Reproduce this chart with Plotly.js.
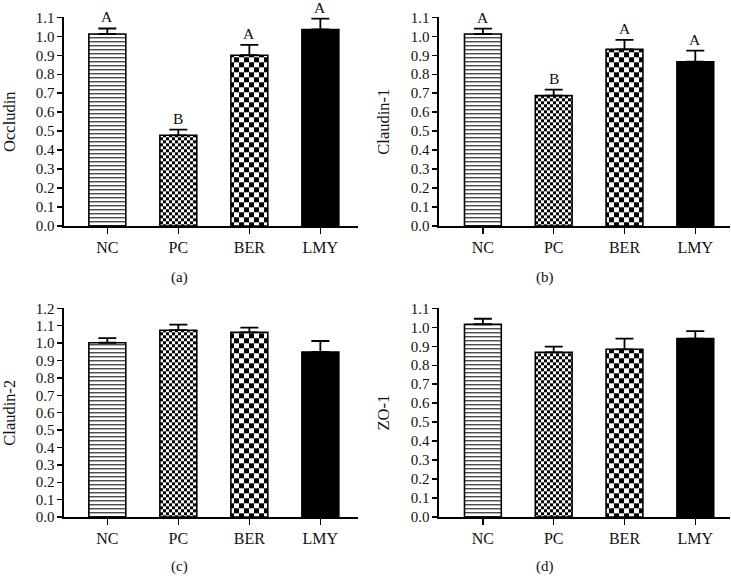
<!DOCTYPE html>
<html>
<head>
<meta charset="utf-8">
<script src="https://cdn.plot.ly/plotly-3.0.1.min.js"></script>
<style>html,body{margin:0;padding:0;background:#fff;}#chart{width:731px;height:578px;}</style>
</head>
<body>
<div id="chart"></div>
<script>
const categories = ['NC', 'PC', 'BER', 'LMY'];

const occludin = [1.012, 0.478, 0.900, 1.036];
const occludinErr = [0.029, 0.030, 0.055, 0.057];
const occludinLetters = ['A', 'B', 'A', 'A'];

const claudin1 = [1.012, 0.687, 0.931, 0.866];
const claudin1Err = [0.028, 0.032, 0.050, 0.058];
const claudin1Letters = ['A', 'B', 'A', 'A'];

const claudin2 = [1.002, 1.074, 1.062, 0.949];
const claudin2Err = [0.027, 0.032, 0.027, 0.063];

const zo1 = [1.016, 0.868, 0.884, 0.940];
const zo1Err = [0.029, 0.030, 0.056, 0.040];

const panelTitles = ['Occludin', 'Claudin-1', 'Claudin-2', 'ZO-1'];
const panelLabels = ['(a)', '(b)', '(c)', '(d)'];
const yTickVals11 = [0,0.1,0.2,0.3,0.4,0.5,0.6,0.7,0.8,0.9,1.0,1.1];
const yTickVals12 = [0,0.1,0.2,0.3,0.4,0.5,0.6,0.7,0.8,0.9,1.0,1.1,1.2];

const FONT = 'Liberation Serif, Times New Roman, serif';
const INK = '#111';

// per-group bar styles: horizontal lines, fine checker, coarse checker, solid black
const groupStyles = [
  {color: 'white', pattern: {shape: '-', size: 4, solidity: 0.3, fgcolor: 'black', bgcolor: 'white'}},
  {color: 'white', pattern: {shape: '+', size: 6, solidity: 0.5, fgcolor: 'black', bgcolor: 'white'}},
  {color: 'white', pattern: {shape: '+', size: 10, solidity: 0.5, fgcolor: 'black', bgcolor: 'white'}},
  {color: 'black', pattern: {shape: ''}}
];

function panelTraces(vals, errs, xa, ya) {
  return categories.map((c, i) => ({
    type: 'bar', x: [c], y: [vals[i]], xaxis: xa, yaxis: ya,
    width: 0.52, showlegend: false, hoverinfo: 'skip',
    marker: {color: groupStyles[i].color, line: {color: 'black', width: 1.6}, pattern: groupStyles[i].pattern},
    error_y: {type: 'data', symmetric: false, array: [errs[i]], arrayminus: [0],
      color: 'black', thickness: 1.8, width: 9}
  }));
}

const data = [].concat(
  panelTraces(occludin, occludinErr, 'x', 'y'),
  panelTraces(claudin1, claudin1Err, 'x2', 'y2'),
  panelTraces(claudin2, claudin2Err, 'x3', 'y3'),
  panelTraces(zo1, zo1Err, 'x4', 'y4')
);

const W = 731, H = 578;
const dxA = [64 / W, 358 / W], dxB = [439 / W, 730 / W];
const dyTop = [(H - 226) / H, (H - 17.3) / H], dyBot = [(H - 517) / H, (H - 308.3) / H];

function xAxis(domain, anchor, range) {
  return {domain: domain, anchor: anchor, type: 'category', categoryarray: categories, categoryorder: 'array',
    range: range,
    showline: true, linecolor: 'black', linewidth: 1.6, showgrid: false, zeroline: false,
    ticks: 'outside', ticklen: 6, tickwidth: 1.4, tickcolor: 'black',
    tickfont: {family: FONT, size: 16, color: INK}, fixedrange: true};
}
function yAxis(domain, anchor, top, title, tv) {
  return {domain: domain, anchor: anchor, range: [0, top],
    tickvals: tv, ticktext: tv.map(v => v.toFixed(1)),
    showline: true, linecolor: 'black', linewidth: 1.6, showgrid: false, zeroline: false,
    ticks: 'outside', ticklen: 5, tickwidth: 1.4, tickcolor: 'black',
    tickfont: {family: FONT, size: 15, color: INK},
    title: {text: title, font: {family: FONT, size: 16.5, color: INK}, standoff: 17},
    automargin: false, fixedrange: true};
}

const annotations = [];
function letters(vals, errs, lets, xa, ya) {
  lets.forEach((t, i) => annotations.push({
    x: categories[i], y: vals[i] + errs[i], xref: xa, yref: ya, text: t,
    showarrow: false, yanchor: 'bottom', yshift: 1,
    font: {family: FONT, size: 15.5, color: INK}
  }));
}
letters(occludin, occludinErr, occludinLetters, 'x', 'y');
letters(claudin1, claudin1Err, claudin1Letters, 'x2', 'y2');

const labelPos = [[179 / W, (H - 277) / H], [545 / W, (H - 277) / H], [179 / W, (H - 566) / H], [545 / W, (H - 566) / H]];
panelLabels.forEach((t, i) => annotations.push({
  x: labelPos[i][0], y: labelPos[i][1], xref: 'paper', yref: 'paper', text: t,
  showarrow: false, xanchor: 'center', yanchor: 'middle',
  font: {family: FONT, size: 15, color: INK}
}));

const rangeA = [-0.61, 3.53], rangeB = [-0.62, 3.49];
const layout = {
  width: W, height: H, margin: {l: 0, r: 0, t: 0, b: 0},
  paper_bgcolor: 'white', plot_bgcolor: 'white', showlegend: false,
  barmode: 'overlay',
  xaxis: xAxis(dxA, 'y', rangeA),
  yaxis: yAxis(dyTop, 'x', 1.1, panelTitles[0], yTickVals11),
  xaxis2: xAxis(dxB, 'y2', rangeB),
  yaxis2: yAxis(dyTop, 'x2', 1.1, panelTitles[1], yTickVals11),
  xaxis3: xAxis(dxA, 'y3', rangeA),
  yaxis3: yAxis(dyBot, 'x3', 1.2, panelTitles[2], yTickVals12),
  xaxis4: xAxis(dxB, 'y4', rangeB),
  yaxis4: yAxis(dyBot, 'x4', 1.1, panelTitles[3], yTickVals11),
  annotations: annotations
};

// crisp tiles: 4px = thin horizontal line, 6px/10px = checkerboards
function retile() {
  const NS = 'http://www.w3.org/2000/svg';
  document.querySelectorAll('#chart pattern').forEach(p => {
    const s = parseFloat(p.getAttribute('width'));
    if (!(s === 4 || s === 6 || s === 10)) return;
    while (p.firstChild) p.removeChild(p.firstChild);
    const mk = (x, y, w, hh, c) => {
      const r = document.createElementNS(NS, 'rect');
      r.setAttribute('x', x); r.setAttribute('y', y);
      r.setAttribute('width', w); r.setAttribute('height', hh);
      r.setAttribute('fill', c); p.appendChild(r);
    };
    mk(0, 0, s, s, 'white');
    if (s === 4) {
      mk(0, 0, s, 1, 'black');
    } else {
      const h = s / 2;
      mk(0, 0, h, h, 'black');
      mk(h, h, h, h, 'black');
    }
  });
}

Plotly.newPlot('chart', data, layout, {staticPlot: true, displayModeBar: false}).then(retile);
</script>
</body>
</html>
